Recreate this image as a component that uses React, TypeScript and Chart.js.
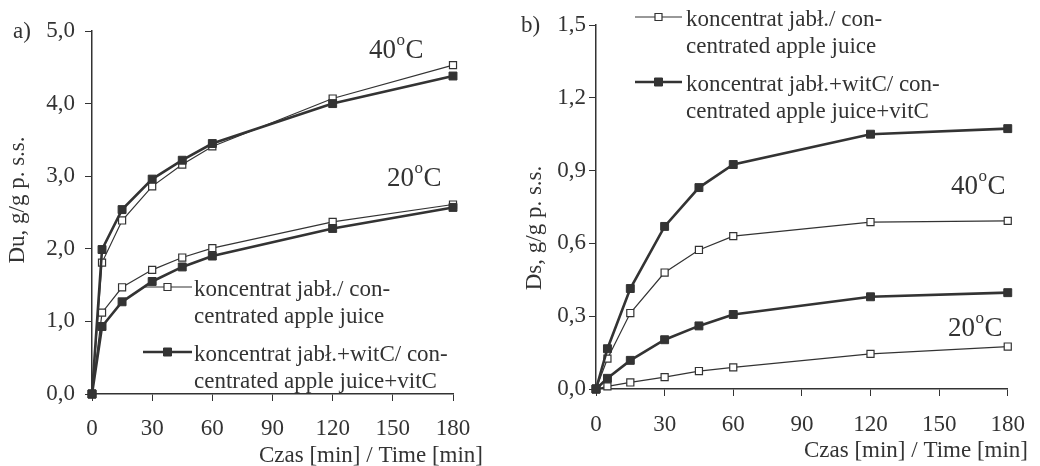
import React, { useEffect, useRef } from "react";
import { Chart, registerables } from "chart.js";

Chart.register(...registerables);

// ---- data ----
const minutes = [0, 5, 15, 30, 45, 60, 120, 180];
const xTickValues = [0, 30, 60, 90, 120, 150, 180];

// panel a) Du
const du40Plain = [0, 1.81, 2.39, 2.86, 3.16, 3.41, 4.07, 4.53];
const du40VitC = [0, 1.99, 2.54, 2.96, 3.22, 3.45, 4.0, 4.38];
const du20Plain = [0, 1.12, 1.47, 1.71, 1.88, 2.01, 2.37, 2.61];
const du20VitC = [0, 0.93, 1.27, 1.55, 1.75, 1.9, 2.28, 2.57];
const duTickValues = [0, 1, 2, 3, 4, 5];

// panel b) Ds
const ds40Plain = [0, 0.125, 0.313, 0.48, 0.573, 0.63, 0.688, 0.693];
const ds40VitC = [0, 0.166, 0.414, 0.67, 0.83, 0.925, 1.05, 1.073];
const ds20Plain = [0, 0.011, 0.027, 0.049, 0.074, 0.089, 0.145, 0.175];
const ds20VitC = [0, 0.044, 0.118, 0.203, 0.26, 0.307, 0.38, 0.397];
const dsTickValues = [0, 0.3, 0.6, 0.9, 1.2, 1.5];

const legendPlain = ["koncentrat jabł./ con-", "centrated apple juice"];
const legendVitC = ["koncentrat jabł.+witC/ con-", "centrated apple juice+vitC"];
const xTitle = "Czas [min] / Time [min]";

const FONT = "'Liberation Serif', 'Times New Roman', serif";
const INK = "#333333";

function pts(vals: number[]) {
  return minutes.map((m, i) => ({ x: m, y: vals[i] }));
}

function plainDs(vals: number[]) {
  return {
    data: pts(vals),
    borderColor: INK,
    borderWidth: 1.2,
    pointStyle: "rect",
    pointRadius: 5,
    pointBackgroundColor: "#ffffff",
    pointBorderColor: INK,
    pointBorderWidth: 1.2,
    clip: false as any,
  };
}
function vitcDs(vals: number[]) {
  return {
    data: pts(vals),
    borderColor: INK,
    borderWidth: 2.6,
    pointStyle: "rect",
    pointRadius: 5.6,
    pointBackgroundColor: INK,
    pointBorderColor: INK,
    pointBorderWidth: 1,
    clip: false as any,
  };
}

type Cfg = {
  label: string;
  labelPos: [number, number];
  yTitle: string;
  yTitlePos: [number, number];
  xTitlePos: [number, number];
  temps: { t: string; x: number; y: number }[];
  legend: { x1: number; x2: number; tx: number; y1: number; t1: number; y2: number; t2: number };
};

function sup(ctx: CanvasRenderingContext2D, t: string, x: number, y: number) {
  ctx.textAlign = "left";
  ctx.textBaseline = "alphabetic";
  ctx.font = `27px ${FONT}`;
  ctx.fillText(t, x, y);
  const w = ctx.measureText(t).width;
  ctx.font = `17px ${FONT}`;
  ctx.fillText("o", x + w + 0.5, y - 13);
  const w2 = ctx.measureText("o").width;
  ctx.font = `27px ${FONT}`;
  ctx.fillText("C", x + w + w2 + 1, y);
}

function marker(ctx: CanvasRenderingContext2D, x: number, y: number, filled: boolean) {
  const s = filled ? 8 : 7;
  ctx.beginPath();
  ctx.rect(x - s / 2, y - s / 2, s, s);
  ctx.fillStyle = filled ? INK : "#fff";
  ctx.fill();
  ctx.lineWidth = filled ? 1 : 1.2;
  ctx.strokeStyle = INK;
  ctx.stroke();
}

function annotPlugin(c: Cfg) {
  return {
    id: "annot",
    afterDraw(chart: any) {
      const ctx: CanvasRenderingContext2D = chart.ctx;
      ctx.save();
      ctx.fillStyle = INK;
      ctx.font = `23px ${FONT}`;
      ctx.textAlign = "left";
      ctx.textBaseline = "alphabetic";
      ctx.fillText(c.label, c.labelPos[0], c.labelPos[1]);
      // x title
      ctx.textAlign = "right";
      ctx.fillText(xTitle, c.xTitlePos[0], c.xTitlePos[1]);
      // y title
      ctx.save();
      ctx.translate(c.yTitlePos[0], c.yTitlePos[1]);
      ctx.rotate(-Math.PI / 2);
      ctx.textAlign = "center";
      ctx.textBaseline = "middle";
      ctx.fillText(c.yTitle, 0, 0);
      ctx.restore();
      // temperatures
      for (const t of c.temps) {
        ctx.fillStyle = INK;
        sup(ctx, t.t, t.x, t.y);
      }
      // legend
      const L = c.legend;
      const entries = [
        { y: L.y1, ty: L.t1, lines: legendPlain, filled: false },
        { y: L.y2, ty: L.t2, lines: legendVitC, filled: true },
      ];
      for (const e of entries) {
        ctx.beginPath();
        ctx.moveTo(L.x1, e.y);
        ctx.lineTo(L.x2, e.y);
        ctx.strokeStyle = INK;
        ctx.lineWidth = e.filled ? 2.6 : 1.2;
        ctx.stroke();
        marker(ctx, (L.x1 + L.x2) / 2, e.y, e.filled);
        ctx.fillStyle = INK;
        ctx.font = `23px ${FONT}`;
        ctx.textAlign = "left";
        ctx.textBaseline = "middle";
        ctx.fillText(e.lines[0], L.tx, e.ty);
        ctx.fillText(e.lines[1], L.tx, e.ty + 27);
      }
      ctx.restore();
    },
  };
}

function makeChart(
  canvas: HTMLCanvasElement,
  datasets: any[],
  yTicks: number[],
  yMax: number,
  area: { left: number; right: number; top: number; bottom: number },
  tickPad: { x: number; y: number },
  cfg: Cfg
) {
  const W = 520;
  const H = 466;
  return new Chart(canvas, {
    type: "line",
    data: { datasets },
    options: {
      animation: false,
      responsive: false,
      maintainAspectRatio: false,
      layout: { padding: { left: 0, right: W - area.right, top: area.top, bottom: 0 } },
      plugins: { legend: { display: false }, tooltip: { enabled: false } },
      elements: { line: { tension: 0 } },
      scales: {
        x: {
          type: "linear",
          min: 0,
          max: 180,
          afterFit: (s: any) => {
            s.height = H - area.bottom;
          },
          afterBuildTicks: (s: any) => {
            s.ticks = xTickValues.map((v) => ({ value: v }));
          },
          ticks: {
            color: INK,
            font: { family: FONT, size: 23 },
            padding: tickPad.x,
            autoSkip: false,
            maxRotation: 0,
            callback: (v: any) => String(v),
          },
          grid: { drawOnChartArea: false, drawTicks: true, tickLength: 7, color: INK, lineWidth: 1 },
          border: { display: true, color: INK, width: 1.5 },
        },
        y: {
          type: "linear",
          min: 0,
          max: yMax,
          afterFit: (s: any) => {
            s.width = area.left;
          },
          afterBuildTicks: (s: any) => {
            s.ticks = yTicks.map((v) => ({ value: v }));
          },
          ticks: {
            color: INK,
            font: { family: FONT, size: 23 },
            padding: tickPad.y,
            autoSkip: false,
            callback: (v: any) => Number(v).toFixed(1).replace(".", ","),
          },
          grid: { drawOnChartArea: false, drawTicks: true, tickLength: 7, color: INK, lineWidth: 1 },
          border: { display: true, color: INK, width: 1.5 },
        },
      },
    },
    plugins: [annotPlugin(cfg) as any],
  });
}

export default function App() {
  const leftRef = useRef<HTMLCanvasElement | null>(null);
  const rightRef = useRef<HTMLCanvasElement | null>(null);

  useEffect(() => {
    const a = makeChart(
      leftRef.current!,
      [vitcDs(du40VitC), plainDs(du40Plain), vitcDs(du20VitC), plainDs(du20Plain)],
      duTickValues,
      5,
      { left: 92, right: 453, top: 31, bottom: 394 },
      { x: 14, y: 10 },
      {
        label: "a)",
        labelPos: [13, 38],
        yTitle: "Du, g/g p. s.s.",
        yTitlePos: [18, 200],
        xTitlePos: [483, 462],
        temps: [
          { t: "40", x: 369, y: 58 },
          { t: "20", x: 387, y: 186 },
        ],
        legend: { x1: 143, x2: 192, tx: 194, y1: 287, t1: 290, y2: 352, t2: 355 },
      }
    );
    const b = makeChart(
      rightRef.current!,
      [vitcDs(ds40VitC), plainDs(ds40Plain), vitcDs(ds20VitC), plainDs(ds20Plain)],
      dsTickValues,
      1.5,
      { left: 76, right: 501, top: 25, bottom: 389 },
      { x: 15, y: 3 },
      {
        label: "b)",
        labelPos: [1, 32],
        yTitle: "Ds, g/g p. s.s.",
        yTitlePos: [15, 228],
        xTitlePos: [508, 457],
        temps: [
          { t: "40", x: 431, y: 194 },
          { t: "20", x: 428, y: 336 },
        ],
        legend: { x1: 115, x2: 162, tx: 166, y1: 17, t1: 20, y2: 82, t2: 85 },
      }
    );
    return () => {
      a.destroy();
      b.destroy();
    };
  }, []);

  return (
    <div
      style={{
        position: "absolute",
        left: 0,
        top: 0,
        width: 1040,
        height: 466,
        display: "flex",
        background: "#fff",
      }}
    >
      <canvas ref={leftRef} width={520} height={466} style={{ width: 520, height: 466, display: "block" }} />
      <canvas ref={rightRef} width={520} height={466} style={{ width: 520, height: 466, display: "block" }} />
    </div>
  );
}
